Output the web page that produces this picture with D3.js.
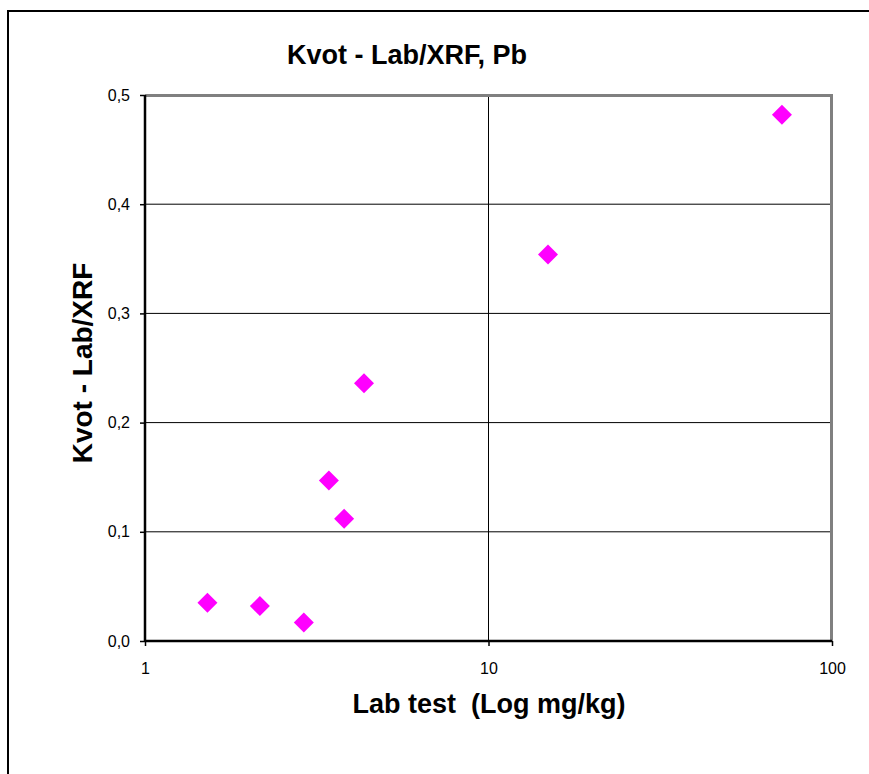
<!DOCTYPE html>
<html>
<head>
<meta charset="utf-8">
<script src="https://cdn.jsdelivr.net/npm/d3@7"></script>
<style>
  body { margin: 0; background: #fff; }
  text { font-family: Arial, "Liberation Sans", sans-serif; }
</style>
</head>
<body>
<div id="chart"></div>
<script>
// data
var labValues = [1.52, 2.16, 2.90, 3.43, 3.80, 4.34, 14.9, 71.5];
var ratioValues = [0.035, 0.032, 0.017, 0.147, 0.112, 0.236, 0.354, 0.482];
var xTicks = [1, 10, 100];
var yTicks = [0, 0.1, 0.2, 0.3, 0.4, 0.5];

var width = 869, height = 774;
var plot = {left: 145, right: 832, top: 95, bottom: 641};

var svg = d3.select("#chart").append("svg")
    .attr("width", width)
    .attr("height", height);

// outer chart border (runs off the right / bottom edge)
svg.append("rect")
    .attr("x", 8).attr("y", 11)
    .attr("width", width + 10).attr("height", height + 10)
    .attr("fill", "none")
    .attr("stroke", "#000")
    .attr("stroke-width", 2);

var x = d3.scaleLog().domain([1, 100]).range([plot.left, plot.right]);
var y = d3.scaleLinear().domain([0, 0.5]).range([plot.bottom, plot.top]);

// gridlines
svg.append("g").selectAll("line")
    .data(yTicks.filter(function (d) { return d > 0 && d < 0.5; }))
    .enter().append("line")
    .attr("x1", plot.left).attr("x2", plot.right)
    .attr("y1", function (d) { return y(d); })
    .attr("y2", function (d) { return y(d); })
    .attr("stroke", "#000").attr("stroke-width", 1);

svg.append("g").selectAll("line")
    .data(xTicks.filter(function (d) { return d > 1 && d < 100; }))
    .enter().append("line")
    .attr("y1", plot.top).attr("y2", plot.bottom)
    .attr("x1", function (d) { return x(d); })
    .attr("x2", function (d) { return x(d); })
    .attr("stroke", "#000").attr("stroke-width", 1);

// gray frame top + right
svg.append("path")
    .attr("d", "M" + plot.left + "," + (plot.top + 0.5) + "H" + (plot.right - 0.5) + "V" + plot.bottom)
    .attr("fill", "none")
    .attr("stroke", "#808080")
    .attr("stroke-width", 3);

// axes
var fmt = function (d) { return d3.format(".1f")(d).replace(".", ","); };

var yAxis = svg.append("g")
    .attr("transform", "translate(" + plot.left + ",0)")
    .call(d3.axisLeft(y).tickValues(yTicks).tickFormat(fmt).tickSize(5).tickPadding(10));

var xAxis = svg.append("g")
    .attr("transform", "translate(0," + plot.bottom + ")")
    .call(d3.axisBottom(x).tickValues(xTicks).tickFormat(d3.format("d")).tickSize(5).tickPadding(17));

[yAxis, xAxis].forEach(function (ax) {
    ax.select(".domain").attr("stroke", "#000").attr("stroke-width", 2.5);
    ax.selectAll(".tick line").attr("stroke", "#000").attr("stroke-width", 1.5);
    ax.selectAll("text")
        .attr("fill", "#000")
        .style("font-size", "16px")
        .style("font-family", "Arial, 'Liberation Sans', sans-serif");
});
yAxis.select(".domain").attr("d", "M0," + plot.top + "V" + plot.bottom);
xAxis.select(".domain").attr("d", "M" + plot.left + ",0H" + plot.right);

// points
svg.append("g").selectAll("path")
    .data(labValues)
    .enter().append("path")
    .attr("transform", function (d, i) {
        return "translate(" + x(d) + "," + y(ratioValues[i]) + ") rotate(45)";
    })
    .attr("d", d3.symbol().type(d3.symbolSquare).size(200))
    .attr("fill", "#FF00FF");

// titles
svg.append("text")
    .attr("x", 407).attr("y", 64)
    .attr("text-anchor", "middle")
    .style("font-size", "27px").style("font-weight", "bold")
    .text("Kvot - Lab/XRF, Pb");

svg.append("text")
    .attr("x", 489).attr("y", 713)
    .attr("text-anchor", "middle")
    .style("font-size", "27px").style("font-weight", "bold")
    .style("white-space", "pre")
    .attr("xml:space", "preserve")
    .text("Lab test  (Log mg/kg)");

svg.append("text")
    .attr("transform", "translate(92,363) rotate(-90)")
    .attr("text-anchor", "middle")
    .style("font-size", "28px").style("font-weight", "bold")
    .text("Kvot - Lab/XRF");
</script>
</body>
</html>
